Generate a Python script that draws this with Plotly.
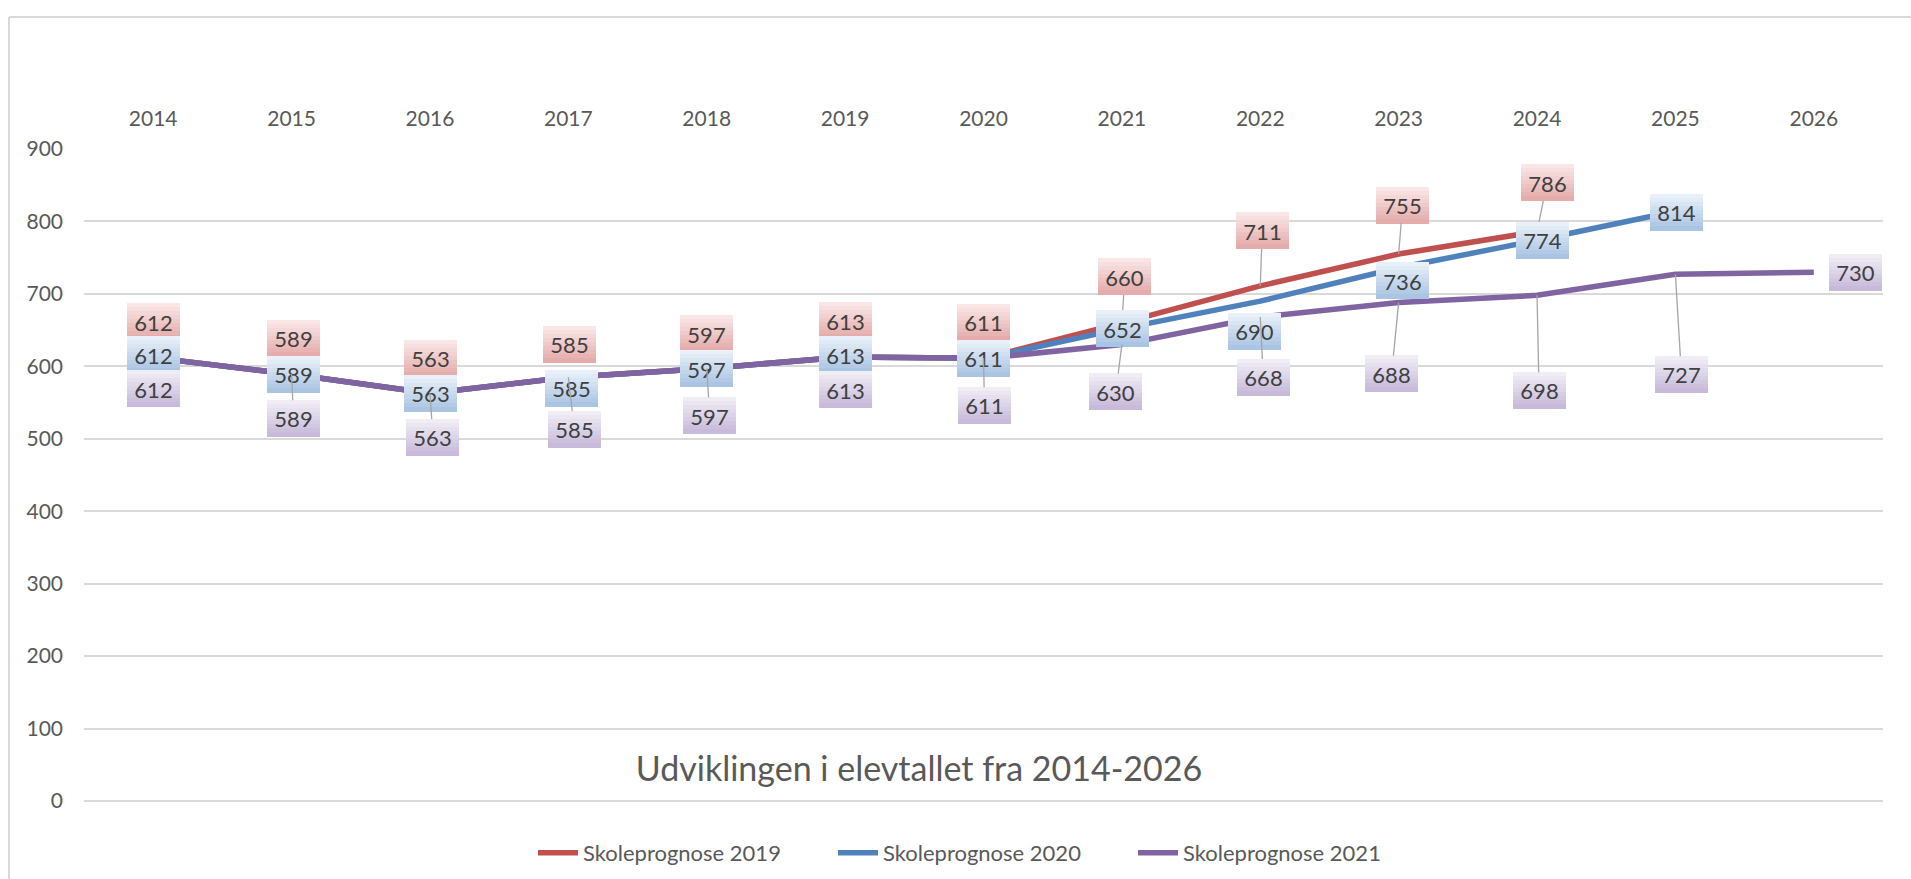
import plotly.graph_objects as go

# --- data -------------------------------------------------------------
years = [2014, 2015, 2016, 2017, 2018, 2019, 2020, 2021, 2022, 2023, 2024, 2025, 2026]
prognose_2019 = [612, 589, 563, 585, 597, 613, 611, 660, 711, 755, 786]
prognose_2020 = [612, 589, 563, 585, 597, 613, 611, 652, 690, 736, 774, 814]
prognose_2021 = [612, 589, 563, 585, 597, 613, 611, 630, 668, 688, 698, 727, 730]
y_ticks = [0, 100, 200, 300, 400, 500, 600, 700, 800, 900]

series_names = ["Skoleprognose 2019", "Skoleprognose 2020", "Skoleprognose 2021"]
series_values = [prognose_2019, prognose_2020, prognose_2021]

# --- style ------------------------------------------------------------
line_colors = ["#c0504d", "#4f81bd", "#8064a2"]
# label box gradient: (top colour, bottom colour)
label_grad = [("#fbeaea", "#e3a9a7"), ("#edf3fa", "#a6c2e2"), ("#f3f0f7", "#c5b7d8")]

# label placement in pixels relative to its point (dx right, dy down) and leader flag
label_dx = [
    [0, 2, 1, 1, 0, 0, 0, 3, 2, 4, 10],
    [0, 2, 1, 3, 0, 0, 0, 1, -6, 4, 5, 1],
    [0, 2, 3, 6, 3, 0, 1, -6, 3, -7, 2, 6, 42],
]
label_dy = [
    [-36, -36, -35, -33, -35, -36, -36, -46, -55, -49, -49],
    [-3, 0, 0, 11, 0, -2, 0, 0, 30, 13, 0, 1],
    [31, 44, 44, 52, 47, 33, 47, 47, 60, 71, 95, 100, 0],
]
label_leader = [
    [0, 0, 0, 0, 0, 0, 0, 1, 1, 1, 1],
    [0, 0, 0, 0, 0, 0, 0, 0, 0, 0, 0, 0],
    [0, 1, 1, 1, 1, 0, 1, 1, 1, 1, 1, 1, 0],
]

FONT = "Lato, 'Noto Sans', sans-serif"
AXIS_GRAY = "#595959"
GRID = "#d9d9d9"
BOX_W, BOX_H, BANDS = 53, 36, 9

W, H = 1911, 879
M_L, M_R, M_T, M_B = 84, 28, 149, 78


def mix(c1, c2, t):
    a = [int(c1[i:i + 2], 16) for i in (1, 3, 5)]
    b = [int(c2[i:i + 2], 16) for i in (1, 3, 5)]
    return "#" + "".join(f"{round(a[k] + (b[k] - a[k]) * t):02x}" for k in range(3))


fig = go.Figure()
for name, vals, col in zip(series_names, series_values, line_colors):
    fig.add_trace(go.Scatter(
        x=years[:len(vals)], y=vals, name=name, mode="lines",
        line=dict(color=col, width=5.5), hoverinfo="x+y",
    ))

annotations = []
band_h = BOX_H / BANDS
for s, vals in enumerate(series_values):
    top, bottom = label_grad[s]
    for i, v in enumerate(vals):
        dx, dy = label_dx[s][i], label_dy[s][i]
        # gradient background built from thin bands
        for b in range(BANDS):
            centre = dy - BOX_H / 2 + (b + 0.5) * band_h
            annotations.append(dict(
                x=years[i], y=v, xref="x", yref="y", text=" ", showarrow=False,
                xanchor="center", yanchor="middle",
                xshift=dx, yshift=-centre, width=BOX_W, height=band_h + 1,
                bgcolor=mix(top, bottom, (b + 0.5) / BANDS), borderpad=0, borderwidth=0,
                font=dict(size=1),
            ))
        label = dict(
            x=years[i], y=v, xref="x", yref="y", text=str(v),
            width=BOX_W, height=BOX_H, borderpad=0, borderwidth=0,
            bgcolor="rgba(0,0,0,0)", xanchor="center", yanchor="middle",
            font=dict(family=FONT, size=22, color="#404040"),
        )
        if label_leader[s][i]:
            label.update(showarrow=True, ax=dx, ay=dy, axref="pixel", ayref="pixel",
                         arrowhead=0, arrowwidth=1.3, arrowcolor="#a5a5a5", standoff=0)
        else:
            label.update(showarrow=False, xshift=dx, yshift=-dy)
        annotations.append(label)

plot_w = W - M_L - M_R
plot_h = H - M_T - M_B


def px_x(p):
    return (p - M_L) / plot_w


def px_y(p):
    return (H - M_B - p) / plot_h


# chart-area frame on the left and top edges
shapes = [
    dict(type="line", xref="paper", yref="paper", x0=px_x(9), x1=px_x(W), y0=px_y(17), y1=px_y(17),
         line=dict(color=GRID, width=2)),
    dict(type="line", xref="paper", yref="paper", x0=px_x(9), x1=px_x(9), y0=px_y(17), y1=px_y(H),
         line=dict(color=GRID, width=2)),
]

fig.update_layout(
    width=W, height=H,
    margin=dict(l=M_L, r=M_R, t=M_T, b=M_B, pad=0),
    paper_bgcolor="white", plot_bgcolor="white",
    font=dict(family=FONT, color=AXIS_GRAY, size=21),
    title=dict(
        text="Udviklingen i elevtallet fra 2014-2026",
        font=dict(family=FONT, size=34, color=AXIS_GRAY),
        xref="container", yref="container", x=919 / W, y=1 - 769 / H,
        xanchor="center", yanchor="middle",
    ),
    xaxis=dict(
        side="top", range=[years[0] - 0.5, years[-1] + 0.5],
        tickvals=years, ticktext=[str(y) for y in years],
        showgrid=False, showline=False, zeroline=False, ticks="",
        ticklabelstandoff=18, tickfont=dict(family=FONT, size=21, color=AXIS_GRAY),
    ),
    yaxis=dict(
        range=[0, 900], tickvals=y_ticks, ticktext=[str(t) for t in y_ticks],
        showgrid=True, gridcolor=GRID, gridwidth=2,
        zeroline=True, zerolinecolor=GRID, zerolinewidth=2,
        showline=False, ticks="", ticklabelstandoff=20,
        tickfont=dict(family=FONT, size=21, color=AXIS_GRAY),
    ),
    legend=dict(
        orientation="h", xref="container", yref="container",
        x=983 / W, y=1 - 853 / H, xanchor="center", yanchor="middle",
        font=dict(family=FONT, size=22, color=AXIS_GRAY),
        entrywidth=245, entrywidthmode="pixels", itemwidth=40,
        bgcolor="rgba(0,0,0,0)",
    ),
    annotations=annotations,
    shapes=shapes,
    showlegend=True,
)

fig.write_html("out.html")
